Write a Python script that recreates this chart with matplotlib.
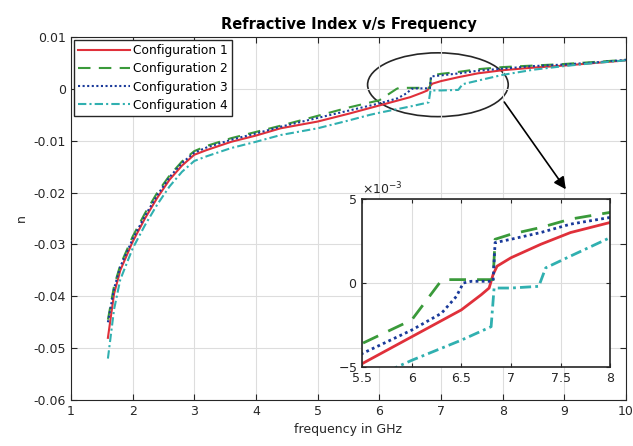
import numpy as np
import matplotlib
matplotlib.use("Agg")
import matplotlib.pyplot as plt
from matplotlib.patches import Ellipse
from matplotlib.ticker import ScalarFormatter

# values (frequency in GHz, refractive index n)
f1 = [1.6, 1.7, 1.8, 2.0, 2.2, 2.4, 2.6, 2.8, 3.0, 3.2, 3.6, 4.0, 4.4, 5.0, 5.5, 6.0,
      6.5, 6.7, 6.78, 6.82, 6.86, 7.0, 7.3, 7.6, 8.0, 8.5, 9.0, 9.5, 10.0]
n1 = [-0.048, -0.0395, -0.035, -0.0295, -0.025, -0.021, -0.0175, -0.0148, -0.0127, -0.0118,
      -0.0102, -0.0090, -0.0076, -0.0063, -0.0048, -0.0032, -0.0016, -0.0007, -0.0003,
      0.0005, 0.0010, 0.0015, 0.0023, 0.0030, 0.0036, 0.0041, 0.0045, 0.0050, 0.0055]

f2 = [1.6, 1.7, 1.8, 2.0, 2.2, 2.4, 2.6, 2.8, 3.0, 3.2, 3.6, 4.0, 4.4, 5.0, 5.5, 6.0,
      6.28, 6.32, 6.6, 6.82, 6.84, 7.0, 7.3, 7.6, 8.0, 8.5, 9.0, 9.5, 10.0]
n2 = [-0.0445, -0.038, -0.034, -0.0285, -0.024, -0.020, -0.0167, -0.014, -0.012, -0.011,
      -0.0095, -0.0083, -0.0071, -0.0052, -0.0036, -0.0022, 0.0, 0.0002, 0.0002, 0.0002,
      0.0026, 0.0029, 0.0033, 0.0038, 0.0042, 0.0045, 0.0048, 0.0052, 0.0056]

f3 = [1.6, 1.7, 1.8, 2.0, 2.2, 2.4, 2.6, 2.8, 3.0, 3.2, 3.6, 4.0, 4.4, 5.0, 5.5, 6.0,
      6.3, 6.45, 6.52, 6.6, 6.82, 6.84, 7.0, 7.3, 7.6, 8.0, 8.5, 9.0, 9.5, 10.0]
n3 = [-0.045, -0.0385, -0.0343, -0.029, -0.0245, -0.0205, -0.017, -0.0143, -0.0123, -0.0113,
      -0.0098, -0.0086, -0.0073, -0.0056, -0.0042, -0.0028, -0.0018, -0.0008, 0.0, 0.0001,
      0.0001, 0.0024, 0.0026, 0.0030, 0.0035, 0.0039, 0.0044, 0.0047, 0.0051, 0.0056]

f4 = [1.6, 1.7, 1.8, 2.0, 2.2, 2.4, 2.6, 2.8, 3.0, 3.2, 3.6, 4.0, 4.4, 5.0, 5.5, 5.85, 6.0,
      6.5, 6.8, 6.83, 7.0, 7.28, 7.35, 7.6, 8.0, 8.5, 9.0, 9.5, 10.0]
n4 = [-0.052, -0.0425, -0.0368, -0.0308, -0.0263, -0.0223, -0.0188, -0.016, -0.0139, -0.0130,
      -0.0114, -0.0102, -0.0089, -0.0076, -0.0061, -0.0050, -0.0046, -0.0034, -0.0026,
      -0.0003, -0.0003, -0.0002, 0.0009, 0.0016, 0.0027, 0.0037, 0.0044, 0.0050, 0.0055]

labels = ["Configuration 1", "Configuration 2", "Configuration 3", "Configuration 4"]
colors = ["#e0303a", "#3a9a3a", "#1a3a9a", "#30b0b0"]
styles = ["-", (0, (6, 4)), (0, (1, 1.2)), (0, (4, 1.5, 1, 1.5))]

data = [(f1, n1), (f2, n2), (f3, n3), (f4, n4)]

dark = "#262626"
plt.rcParams["font.family"] = "DejaVu Sans"

fig = plt.figure(figsize=(6.33, 4.46), dpi=100)
ax = fig.add_axes([0.112, 0.103, 0.877, 0.814])

for (f, n), lab, c, ls in zip(data, labels, colors, styles):
    ax.plot(f, n, color=c, linestyle=ls, linewidth=1.5, label=lab)

ax.set_xlim(1, 10)
ax.set_ylim(-0.06, 0.01)
ax.set_xticks(range(1, 11))
ax.set_yticks(np.arange(-0.06, 0.0101, 0.01))
ax.set_yticklabels(["-0.06", "-0.05", "-0.04", "-0.03", "-0.02", "-0.01", "0", "0.01"])
ax.grid(True, color="#dddddd", linewidth=0.8)
ax.tick_params(direction="in", top=True, right=True, labelsize=9, colors=dark, length=4)
for s in ax.spines.values():
    s.set_color(dark)
ax.set_title("Refractive Index v/s Frequency", fontsize=10.5, fontweight="bold", pad=6)
ax.set_xlabel("frequency in GHz", fontsize=9, color=dark)
ax.set_ylabel("n", fontsize=9, color=dark)

leg = ax.legend(loc="upper left", fontsize=8.8, handlelength=4.2, borderaxespad=0.25,
                fancybox=False, framealpha=1, labelspacing=0.42, borderpad=0.35,
                handletextpad=0.3)
leg.get_frame().set_edgecolor(dark)

# ellipse around the jump region and arrow to the zoomed inset
ax.add_patch(Ellipse((6.95, 0.0008), 2.28, 0.0123, fill=False, edgecolor=dark, linewidth=1.2))
ax.annotate("", xy=(9.05, -0.0198), xytext=(8.0, -0.0021),
            arrowprops=dict(arrowstyle="-|>", color="black", lw=1.2, mutation_scale=18))

# inset
ins = fig.add_axes([0.572, 0.177, 0.392, 0.377])
for (f, n), c, ls in zip(data, colors, styles):
    ins.plot(f, n, color=c, linestyle=ls, linewidth=2)
ins.set_xlim(5.5, 8)
ins.set_ylim(-0.005, 0.005)
ins.set_xticks([5.5, 6, 6.5, 7, 7.5, 8])
ins.set_xticklabels(["5.5", "6", "6.5", "7", "7.5", "8"])
ins.set_yticks([-0.005, 0, 0.005])
fmt = ScalarFormatter(useMathText=True)
fmt.set_powerlimits((-2, 2))
ins.yaxis.set_major_formatter(fmt)
ins.yaxis.get_offset_text().set_fontsize(9)
ins.grid(True, color="#dddddd", linewidth=0.8)
ins.tick_params(direction="in", top=True, right=True, labelsize=9, colors=dark, length=3)
for s in ins.spines.values():
    s.set_color(dark)
    s.set_linewidth(1.2)

fig.savefig("out.png", dpi=100)
